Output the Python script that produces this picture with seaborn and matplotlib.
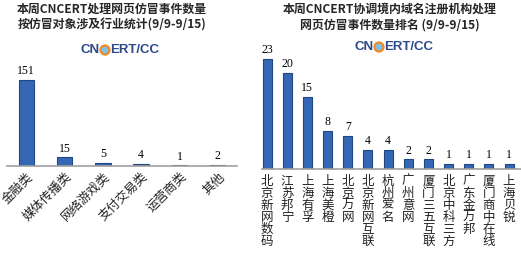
import matplotlib
matplotlib.use("Agg")
import matplotlib.pyplot as plt
from matplotlib.patches import Circle
import seaborn as sns
import pandas as pd

sns.set_theme(style="white")
plt.rcParams['font.family'] = ['Noto Sans CJK SC', 'DejaVu Sans']

left_title = "本周CNCERT处理网页仿冒事件数量\n按仿冒对象涉及行业统计(9/9-9/15)"
left_cats = ["金融类", "媒体传播类", "网络游戏类", "支付交易类", "运营商类", "其他"]
left_vals = [151, 15, 5, 4, 1, 2]

right_title = "本周CNCERT协调境内域名注册机构处理\n网页仿冒事件数量排名 (9/9-9/15)"
right_cats = ["北京新网数码", "江苏邦宁", "上海有孚", "上海美橙", "北京万网", "北京新网互联",
              "杭州爱名", "广州意网", "厦门三五互联", "北京中科三方", "广东金万邦",
              "厦门商中在线", "上海贝锐"]
right_vals = [23, 20, 15, 8, 7, 4, 4, 2, 2, 1, 1, 1, 1]

W, H = 521, 254
fig = plt.figure(figsize=(W / 100, H / 100), dpi=100)

bar_color = "#3567b4"
edge_color = "#1f4785"
num_font = ['Liberation Serif', 'DejaVu Serif']


def px_axes(x0, x1, ybase, ytop):
    return fig.add_axes([x0 / W, (H - ybase) / H, (x1 - x0) / W, (ybase - ytop) / H])


def logo(xc, yc):
    fs = 9.5
    fam = ['Liberation Sans', 'DejaVu Sans']
    yf = (H - yc) / H
    fig.text((xc - 5) / W, yf, "CN", color="#2d4a8a", fontsize=fs,
             fontweight="bold", family=fam, ha="right", va="center")
    tr = fig.dpi_scale_trans
    cx, cy = xc / 100, (H - yc) / 100
    fig.add_artist(Circle((cx, cy), 0.045, transform=tr, facecolor="#7fc0e6",
                          edgecolor="#f08a24", linewidth=1.6))
    fig.text((xc + 5) / W, yf, "ERT/CC", color="#2d4a8a", fontsize=fs,
             fontweight="bold", family=fam, ha="left", va="center")


# ---- Left chart ----
axL = px_axes(7, 237, 166, 69)
dfL = pd.DataFrame({"cat": left_cats, "val": left_vals})
sns.barplot(data=dfL, x="cat", y="val", ax=axL, color=bar_color, width=0.4,
            edgecolor=edge_color, linewidth=0.8, saturation=1)
axL.set_xlim(-0.5, 5.5)
axL.set_ylim(0, 151 * 97 / 86)
for i, v in enumerate(left_vals):
    axL.text(i, v + 5, str(v), ha="center", va="bottom", fontsize=8.5,
             family=num_font, color="black")
axL.set_xlabel("")
axL.set_ylabel("")
axL.set_yticks([])
for s in ["top", "right", "left"]:
    axL.spines[s].set_visible(False)
axL.spines["bottom"].set_color("#a0a0a0")
axL.spines["bottom"].set_linewidth(1.2)
axL.tick_params(axis="x", length=0, pad=3)
axL.set_xticks(range(len(left_cats)))
axL.set_xticklabels(left_cats, rotation=45, ha="right", rotation_mode="anchor",
                    fontsize=9, color="#222222")
fig.text(112 / W, (H - 17) / H, left_title, ha="center", va="center",
         fontsize=8.6, fontweight="bold", linespacing=1.3)
logo(105, 50)

# ---- Right chart ----
axR = px_axes(262, 521, 169, 49)
dfR = pd.DataFrame({"cat": right_cats, "val": right_vals})
sns.barplot(data=dfR, x="cat", y="val", ax=axR, color=bar_color, width=0.45,
            edgecolor=edge_color, linewidth=0.8, saturation=1)
axR.set_xlim(-0.25, 12.59)
axR.set_ylim(0, 23 * 120 / 110)
for i, v in enumerate(right_vals):
    axR.text(i, v + 0.6, str(v), ha="center", va="bottom", fontsize=8.5,
             family=num_font, color="black")
axR.set_xlabel("")
axR.set_ylabel("")
axR.set_yticks([])
for s in ["top", "right", "left"]:
    axR.spines[s].set_visible(False)
axR.spines["bottom"].set_color("#a0a0a0")
axR.spines["bottom"].set_linewidth(1.2)
axR.tick_params(axis="x", length=0, pad=4)
axR.set_xticks(range(len(right_cats)))
axR.set_xticklabels(["\n".join(c) for c in right_cats], rotation=0, ha="center",
                    va="top", fontsize=9, color="#222222", linespacing=0.9)
fig.text(390 / W, (H - 17) / H, right_title, ha="center", va="center",
         fontsize=8.6, fontweight="bold", linespacing=1.3)
logo(379, 47)

fig.savefig("out.png", dpi=100)
